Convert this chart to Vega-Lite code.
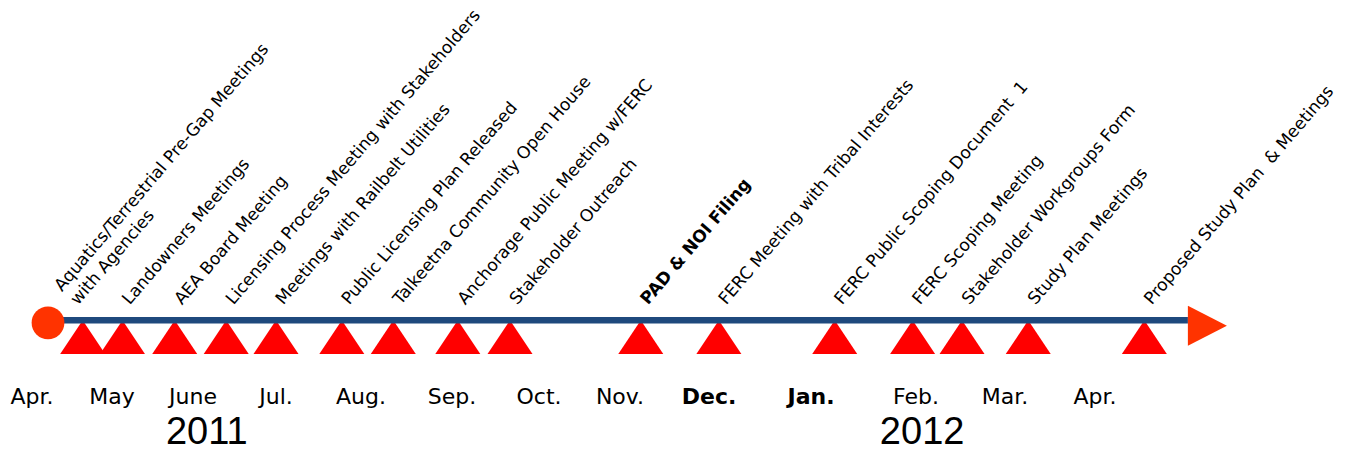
{
  "$schema": "https://vega.github.io/schema/vega-lite/v6.json",
  "width": 1348,
  "height": 452,
  "autosize": {"type": "fit", "contains": "padding"},
  "padding": 0,
  "background": "white",
  "config": {"view": {"stroke": null}},
  "datasets": {
    "events": [
      {"date": "2011-04-20", "label": "Aquatics/Terrestrial Pre-Gap Meetings\nwith Agencies"},
      {"date": "2011-05-05", "label": "Landowners Meetings"},
      {"date": "2011-05-25", "label": "AEA Board Meeting"},
      {"date": "2011-06-13", "label": "Licensing Process Meeting with Stakeholders"},
      {"date": "2011-07-01", "label": "Meetings with Railbelt Utilities"},
      {"date": "2011-07-25", "label": "Public Licensing Plan Released"},
      {"date": "2011-08-12", "label": "Talkeetna Community Open House"},
      {"date": "2011-09-03", "label": "Anchorage Public Meeting w/FERC"},
      {"date": "2011-09-21", "label": "Stakeholder Outreach"},
      {"date": "2011-11-08", "label": "PAD & NOI Filing"},
      {"date": "2011-12-04", "label": "FERC Meeting with Tribal Interests"},
      {"date": "2012-01-08", "label": "FERC Public Scoping Document\u00a0 1"},
      {"date": "2012-01-31", "label": "FERC Scoping Meeting"},
      {"date": "2012-02-16", "label": "Stakeholder Workgroups Form"},
      {"date": "2012-03-09", "label": "Study Plan Meetings"},
      {"date": "2012-04-18", "label": "Proposed Study Plan\u00a0 & Meetings"}
    ],
    "months": [
      {"date": "2011-04-01", "month": "Apr."},
      {"date": "2011-05-01", "month": "May"},
      {"date": "2011-06-01", "month": "June"},
      {"date": "2011-07-01", "month": "Jul."},
      {"date": "2011-08-01", "month": "Aug."},
      {"date": "2011-09-01", "month": "Sep."},
      {"date": "2011-10-01", "month": "Oct."},
      {"date": "2011-11-01", "month": "Nov."},
      {"date": "2011-12-01", "month": "Dec."},
      {"date": "2012-01-01", "month": "Jan."},
      {"date": "2012-02-01", "month": "Feb."},
      {"date": "2012-03-01", "month": "Mar."},
      {"date": "2012-04-01", "month": "Apr."}
    ],
    "years": [
      {"date": "2011-06-06", "year": "2011"},
      {"date": "2012-02-03", "year": "2012"}
    ],
    "start": [
      {"date": "2011-04-07", "end": "2012-05-03"}
    ],
    "finish": [
      {"date": "2012-05-03"}
    ]
  },
  "encoding": {
    "x": {
      "field": "date",
      "type": "temporal",
      "scale": {
        "domain": {"expr": "[1301616000000, 1304208000000, 1306886400000, 1309478400000, 1312156800000, 1314835200000, 1317427200000, 1320105600000, 1322697600000, 1325376000000, 1328054400000, 1330560000000, 1333238400000]"},
        "range": [32, 112, 193, 276, 361, 452, 539, 620, 709, 811, 916, 1005, 1095],
        "nice": false
      },
      "axis": null
    },
    "y": {
      "datum": 0,
      "type": "quantitative",
      "scale": {"domain": [-129.5, 322.5], "nice": false, "zero": false},
      "axis": null
    }
  },
  "layer": [
    {
      "data": {"name": "events"},
      "mark": {"type": "point", "shape": "M0,0 L1,1.5 L-1,1.5 Z", "filled": true, "size": 2025, "color": "#FF0000", "opacity": 1, "strokeWidth": 0}
    },
    {
      "data": {"name": "start"},
      "mark": {"type": "rule", "color": "#1F497D", "strokeWidth": 6.5},
      "encoding": {
        "x2": {"field": "end"}
      }
    },
    {
      "data": {"name": "start"},
      "mark": {"type": "point", "shape": "circle", "filled": true, "size": 1075, "color": "#FF3300", "opacity": 1, "strokeWidth": 0},
      "encoding": {
        "y": {"datum": -2.5, "type": "quantitative"}
      }
    },
    {
      "data": {"name": "finish"},
      "mark": {"type": "point", "shape": "M0,-1 L1.95,0 L0,1 Z", "filled": true, "size": 1600, "color": "#FF3300", "opacity": 1, "strokeWidth": 0},
      "encoding": {
        "y": {"datum": -5.5, "type": "quantitative"}
      }
    },
    {
      "data": {"name": "events"},
      "transform": [{"filter": "indexof(datum.label, '\\n') < 0 && datum.label !== 'PAD & NOI Filing'"}],
      "mark": {"type": "text", "angle": -49.5, "align": "left", "baseline": "alphabetic", "dx": 16, "dy": -4, "font": "DejaVu Sans", "fontSize": 17, "color": "#000000"},
      "encoding": {"text": {"field": "label"}}
    },
    {
      "data": {"name": "events"},
      "transform": [{"filter": "datum.label === 'PAD & NOI Filing'"}],
      "mark": {"type": "text", "angle": -49.5, "align": "left", "baseline": "alphabetic", "dx": 16, "dy": -4, "font": "DejaVu Sans", "fontSize": 17, "fontWeight": "bold", "color": "#000000"},
      "encoding": {"text": {"field": "label"}}
    },
    {
      "data": {"name": "events"},
      "transform": [{"filter": "indexof(datum.label, '\\n') >= 0"}],
      "mark": {"type": "text", "angle": -49.5, "align": "left", "baseline": "alphabetic", "lineBreak": "\n", "lineHeight": 21, "dx": 8, "dy": -34, "font": "DejaVu Sans", "fontSize": 17, "color": "#000000"},
      "encoding": {"text": {"field": "label"}}
    },
    {
      "data": {"name": "months"},
      "transform": [{"filter": "datum.month !== 'Dec.' && datum.month !== 'Jan.'"}],
      "mark": {"type": "text", "align": "center", "baseline": "alphabetic", "dy": 84, "font": "DejaVu Sans", "fontSize": 22, "color": "#000000"},
      "encoding": {"text": {"field": "month"}}
    },
    {
      "data": {"name": "months"},
      "transform": [{"filter": "datum.month === 'Dec.' || datum.month === 'Jan.'"}],
      "mark": {"type": "text", "align": "center", "baseline": "alphabetic", "dy": 84, "font": "DejaVu Sans", "fontSize": 22, "fontWeight": "bold", "color": "#000000"},
      "encoding": {"text": {"field": "month"}}
    },
    {
      "data": {"name": "years"},
      "mark": {"type": "text", "align": "center", "baseline": "alphabetic", "dy": 124, "font": "Liberation Sans", "fontSize": 38, "color": "#000000"},
      "encoding": {"text": {"field": "year"}}
    }
  ]
}
